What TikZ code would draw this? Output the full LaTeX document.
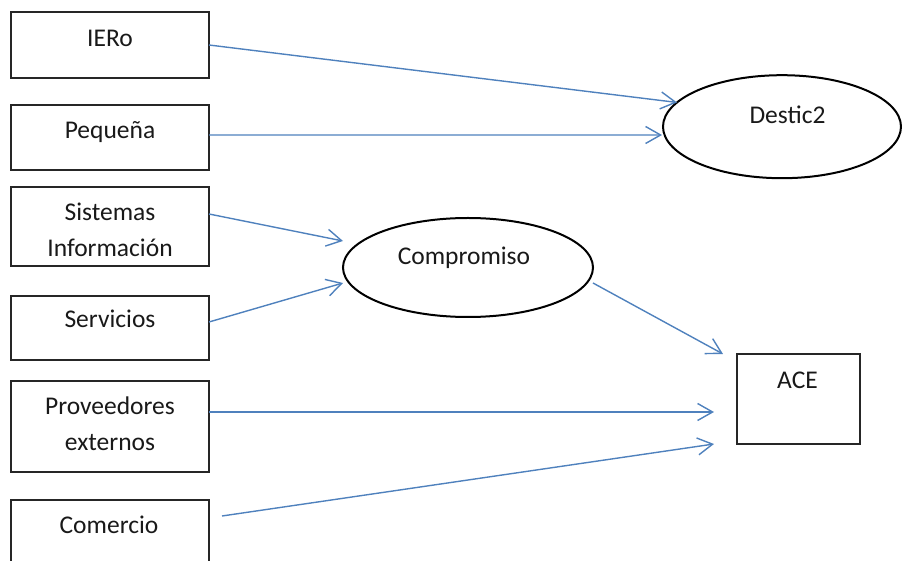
\documentclass[tikz,border=0pt]{standalone}
\usepackage{fontspec}
\setmainfont{Carlito}
\usetikzlibrary{arrows.meta,shapes.geometric,calc}
\definecolor{linkblue}{RGB}{79,129,189}
\definecolor{inkgray}{RGB}{25,25,25}
\begin{document}
\begin{tikzpicture}[x=0.5pt,y=-0.5pt,
  box/.style={draw=black!85, line width=0.7pt, rectangle, inner sep=0pt, outer sep=0pt},
  oval/.style={draw=black, line width=1pt, ellipse, inner sep=0pt, outer sep=0pt},
  txt/.style={anchor=base, align=center, text=inkgray, font=\fontsize{12.75}{18.4}\selectfont, inner sep=0pt},
  link/.style={draw=linkblue, line width=0.7pt, -{Straight Barb[length=7.5pt,width=8.5pt]}},
]
\useasboundingbox (0,0) rectangle (902,561);

% boxes
\node[box, minimum width=99pt, minimum height=33pt]   (iero) at (110,45)    {};
\node[box, minimum width=99pt, minimum height=32.5pt] (peq)  at (110,137.5) {};
\node[box, minimum width=99pt, minimum height=39.5pt] (sis)  at (110,226.5) {};
\node[box, minimum width=99pt, minimum height=32pt]   (serv) at (110,328)   {};
\node[box, minimum width=99pt, minimum height=45.5pt] (prov) at (110,426.5) {};
\node[box, minimum width=99pt, minimum height=33pt]   (com)  at (110,533)   {};
\node[box, minimum width=61.5pt, minimum height=45pt] (ace)  at (798.5,399) {};

% ellipses
\node[oval, minimum width=119pt, minimum height=51.5pt] (destic) at (782,126.7) {};
\node[oval, minimum width=125pt, minimum height=49.5pt] (comp)   at (468,267.5) {};

% texts (base anchor = baseline of the last line)
\node[txt] (tiero) at (110,46.7)  {IERo};
\node[txt] (tpeq)  at (110,138.3) {Pequeña};
\node[txt] (tsis)  at (110,257)   {Sistemas\\Información};
\node[txt] (tserv) at (110,327.7) {Servicios};
\node[txt] (tprov) at (110,451)   {Proveedores\\externos};
\node[txt] (tcom)  at (109,533.3) {Comercio};
\node[txt] (tdes)  at (787.5,124) {Destic2};
\node[txt] (tcomp) at (464,264.3) {Compromiso};
\node[txt] (tace)  at (797.5,388.3) {ACE};

% connectors
\draw[link] (iero.east) -- (destic.167.6);
\draw[link] ($(peq.east)+(0,-2.5)$) -- ($(destic.west)+(-1,8.3)$);
\draw[link] ($(sis.east)+(0,-12.5)$) -- ($(comp.west)+(0,-26.5)$);
\draw[link] ($(serv.east)+(0,-6)$) -- ($(comp.west)+(0,15.5)$);
\draw[link] ($(comp.east)+(0,15.5)$) -- ($(ace.north west)+(-14,0)$);
\draw[link] ($(prov.east)+(0,-14.5)$) -- ($(ace.west)+(-23,13)$);
\draw[link] ($(com.north east)+(13,16)$) -- ($(ace.south west)+(-23,0)$);
\end{tikzpicture}
\end{document}
